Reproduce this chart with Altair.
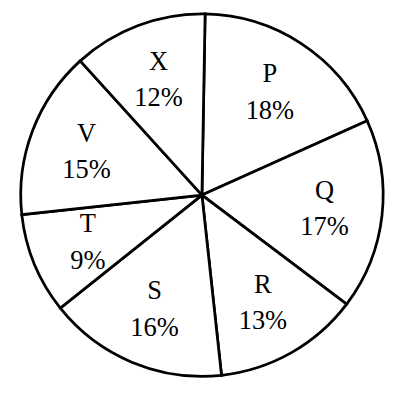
import math
import altair as alt
import pandas as pd

names = ["P", "Q", "R", "S", "T", "V", "X"]
shares = [18, 17, 13, 16, 9, 15, 12]

df = pd.DataFrame({
    "name": names,
    "share": shares,
    "idx": list(range(len(names))),
})
df["label"] = [f"{n}\n{s}%" for n, s in zip(names, shares)]

start = math.radians(1)
theta_scale = alt.Scale(range=[start, start + 2 * math.pi])

base = alt.Chart(df).encode(
    theta=alt.Theta("share:Q", stack=True, scale=theta_scale),
    order=alt.Order("idx:Q"),
    x=alt.value(198),
    y=alt.value(187),
)

pie = base.mark_arc(radius=185, fill="white", stroke="black", strokeWidth=2.8)

text = base.mark_text(
    radius=126,
    dy=-18,
    font="Liberation Serif",
    fontSize=27,
    lineBreak="\n",
    lineHeight=37,
    align="center",
    baseline="middle",
    color="black",
).encode(text="label:N")

chart = (
    alt.layer(pie, text)
    .properties(width=390, height=386, autosize=alt.AutoSizeParams(type="none"), padding=0, background="white")
    .configure_view(stroke=None)
)

chart.save("out.html", embed_options={"renderer": "svg", "actions": False})
